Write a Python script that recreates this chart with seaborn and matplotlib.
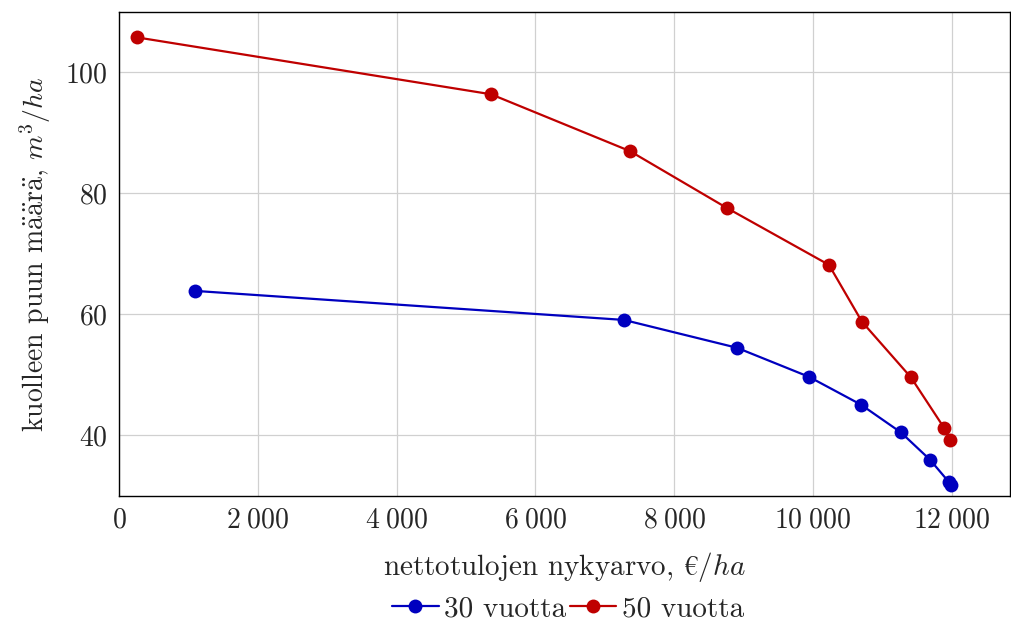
import numpy as np
import pandas as pd
import matplotlib
matplotlib.use("Agg")
import matplotlib.pyplot as plt
import seaborn as sns
from matplotlib.ticker import FuncFormatter

# Datapisteet (luettu kuvasta)
x_30 = [1095, 7277, 8905, 9943, 10692, 11269, 11687, 11960, 11989]
y_30 = [63.9, 59.1, 54.5, 49.7, 45.1, 40.5, 36.0, 32.3, 31.8]

x_50 = [259, 5361, 7364, 8761, 10231, 10707, 11413, 11888, 11975]
y_50 = [105.8, 96.4, 87.0, 77.6, 68.2, 58.8, 49.6, 41.3, 39.2]

sarjat = ["30 vuotta", "50 vuotta"]
varit = ["#0000bf", "#bf0000"]

df = pd.concat([
    pd.DataFrame({"x": x_30, "y": y_30, "sarja": sarjat[0]}),
    pd.DataFrame({"x": x_50, "y": y_50, "sarja": sarjat[1]}),
])

sns.set_style("whitegrid")
plt.rcParams["font.family"] = ["cmr10", "DejaVu Serif"]
plt.rcParams["mathtext.fontset"] = "cm"
plt.rcParams["axes.formatter.use_mathtext"] = True

fig = plt.figure(figsize=(10.11, 6.3), dpi=100)
ax = fig.add_axes([0.1177, 0.2127, 0.8813, 0.7683])

sns.lineplot(
    data=df, x="x", y="y", hue="sarja", palette=dict(zip(sarjat, varit)),
    sort=False, estimator=None, units="sarja", marker="o", markersize=10,
    markeredgewidth=0, linewidth=1.6, ax=ax, legend=False
)

ax.set_xlim(0, 12840)
ax.set_ylim(30, 110)
ax.set_xticks([0, 2000, 4000, 6000, 8000, 10000, 12000])
ax.set_yticks([40, 60, 80, 100])
ax.xaxis.set_major_formatter(FuncFormatter(
    lambda v, p: "$" + f"{int(v):,}".replace(",", r"\;") + "$"))
ax.yaxis.set_major_formatter(FuncFormatter(lambda v, p: f"${int(v)}$"))
ax.tick_params(labelsize=20, direction="in", length=4, color="black", pad=8)

ax.grid(True, color="#d0d0d0", linewidth=0.9)
for s in ax.spines.values():
    s.set_color("black")
    s.set_linewidth(1.0)

ax.set_xlabel("nettotulojen nykyarvo, $\u20ac/ha$", fontsize=21, labelpad=12)
ax.set_ylabel(r"kuolleen puun m$\ddot{\mathrm{a}}\ddot{\mathrm{a}}$r$\ddot{\mathrm{a}}$, $m^3/ha$",
              fontsize=20, labelpad=9)

handles = [plt.Line2D([], [], color=c, marker="o", markersize=10, markeredgewidth=0,
                      linewidth=1.6) for c in varit]
fig.legend(handles, sarjat, loc="lower center", bbox_to_anchor=(0.562, -0.03),
           ncol=2, frameon=False, fontsize=21, handlelength=1.6,
           handletextpad=0.2, columnspacing=0.1)

fig.savefig("out.png", dpi=100)
